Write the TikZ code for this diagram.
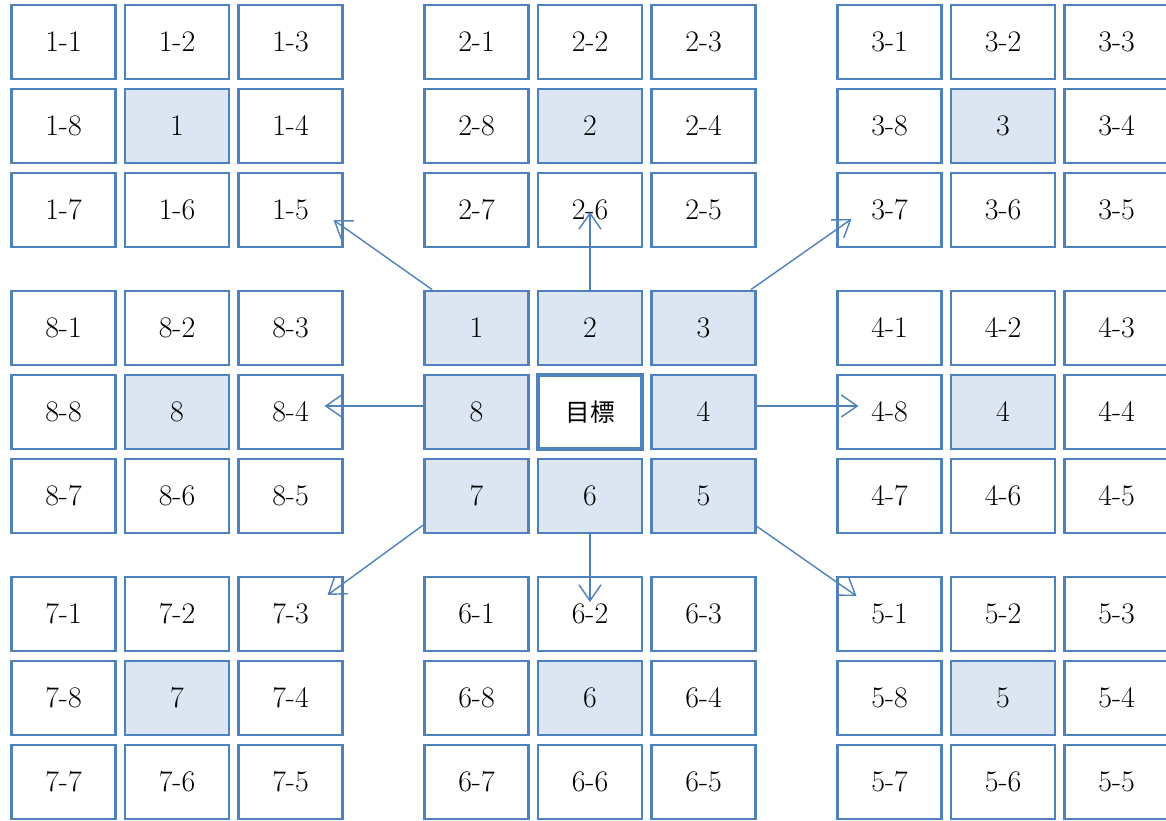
\documentclass[tikz,border=0pt]{standalone}
\usepackage{fontspec}
\newfontfamily\jpfont{Noto Sans CJK JP}
\usetikzlibrary{arrows.meta,calc}

\definecolor{cellblue}{RGB}{79,129,189}
\definecolor{cellfill}{RGB}{220,230,242}

\tikzset{
    cell/.style={draw=cellblue, line width=1.5pt, fill=white, minimum width=2.08cm, minimum height=1.48cm, inner sep=0pt, font=\fontsize{17}{20}\selectfont},
    hub/.style={cell, fill=cellfill},
    goalbox/.style={cell, line width=2.5pt},
    link/.style={draw=cellblue, line width=0.8pt, -{Straight Barb[length=3.2mm,width=4.4mm]}},
}

\begin{document}
\begin{tikzpicture}[x=0.02cm,y=-0.02cm]
    \def\colgap{113.5}
    \def\rowgap{84}
    \useasboundingbox (0,0) rectangle (1166,821);

    % Draw the eight outer blocks
    \foreach \k/\cx/\cy in {1/177/126, 2/590/126, 3/1003/126, 4/1003/412, 5/1003/698, 6/590/698, 7/177/698, 8/177/412} {
        \node[hub] (b\k) at (\cx,\cy) {\k};
        \foreach \s/\i/\j in {1/-1/-1, 2/0/-1, 3/1/-1, 4/1/0, 5/1/1, 6/0/1, 7/-1/1, 8/-1/0}
            \node[cell] (b\k-\s) at (\cx+\i*\colgap, \cy+\j*\rowgap) {\k-\s};
    }

    % Draw the middle block
    \node[goalbox] (goal) at (590,412) {\jpfont\fontsize{14}{17}\selectfont 目標};
    \foreach \k/\i/\j in {1/-1/-1, 2/0/-1, 3/1/-1, 4/1/0, 5/1/1, 6/0/1, 7/-1/1, 8/-1/0}
        \node[hub] (c\k) at (590+\i*\colgap, 412+\j*\rowgap) {\k};

    % Arrows out to the blocks
    \draw[link] ($(c1.north west)+(9,0)$) -- ($(b1-5.center)+(43,10)$);
    \draw[link] (c2.north) -- ($(b2-6.center)+(0,2)$);
    \draw[link] ($(c3.north east)+(-6,0)$) -- ($(b3-7.center)+(-38,9)$);
    \draw[link] ($(c4.east)+(0,-6)$) -- ($(b4-8.center)+(-31,-6)$);
    \draw[link] ($(c5.south east)+(0,-8)$) -- ($(b5-1.center)+(-33,-18)$);
    \draw[link] (c6.south) -- ($(b6-2.center)+(0,-12)$);
    \draw[link] ($(c7.south west)+(1,-10)$) -- ($(b7-3.center)+(37,-19)$);
    \draw[link] ($(c8.west)+(0,-6)$) -- ($(b8-4.center)+(34,-6)$);
\end{tikzpicture}
\end{document}
